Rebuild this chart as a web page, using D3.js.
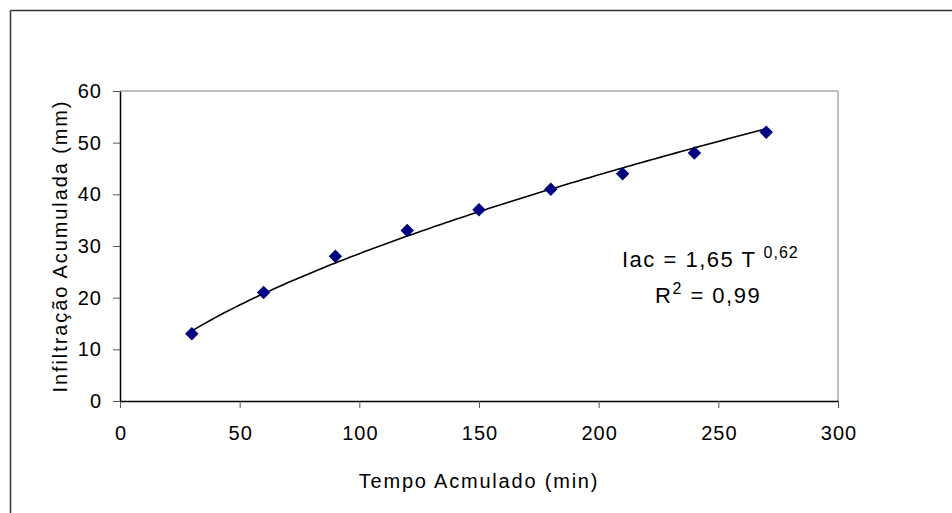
<!DOCTYPE html>
<html>
<head>
<meta charset="utf-8">
<script src="https://cdn.jsdelivr.net/npm/d3@7"></script>
<style>
  body { margin: 0; background: #fff; }
  svg text { font-family: 'Liberation Sans', Arial, sans-serif; fill: #000; }
</style>
</head>
<body>
<div id="chart"></div>
<script>
// Data
const tempo = [30, 60, 90, 120, 150, 180, 210, 240, 270] // min
const infiltracao = [13, 21, 28, 33, 37, 41, 44, 48, 52] // mm
const xTicks = [0, 50, 100, 150, 200, 250, 300]
const yTicks = [0, 10, 20, 30, 40, 50, 60]

const width = 952
const height = 513
const margin = { top: 91, right: 114, bottom: 112, left: 120 }

const svg = d3.select('#chart').append('svg')
  .attr('width', width)
  .attr('height', height)

// Outer chart frame (only top and left visible)
svg.append('line')
  .attr('x1', 10.5).attr('x2', width).attr('y1', 10.5).attr('y2', 10.5)
  .attr('stroke', '#333').attr('stroke-width', 1.5)
svg.append('line')
  .attr('x1', 10.5).attr('x2', 10.5).attr('y1', 10.5).attr('y2', height)
  .attr('stroke', '#333').attr('stroke-width', 1.5)

const xScale = d3.scaleLinear()
  .domain([0, 300])
  .range([margin.left, width - margin.right])

const yScale = d3.scaleLinear()
  .domain([0, 60])
  .range([height - margin.bottom, margin.top])

// Plot frame top and right in gray
svg.append('line')
  .attr('x1', xScale(0)).attr('x2', xScale(300))
  .attr('y1', yScale(60)).attr('y2', yScale(60))
  .attr('stroke', '#808080')
svg.append('line')
  .attr('x1', xScale(300)).attr('x2', xScale(300))
  .attr('y1', yScale(60)).attr('y2', yScale(0))
  .attr('stroke', '#808080')

// Axis x
const xAxis = svg.append('g')
  .attr('transform', `translate(0, ${yScale(0)})`)
  .call(d3.axisBottom(xScale).tickValues(xTicks).tickSize(7).tickSizeOuter(0).tickPadding(18))
xAxis.select('.domain').attr('stroke', '#000').attr('stroke-width', 1.5)
xAxis.selectAll('.tick line').attr('stroke', '#555')
xAxis.selectAll('.tick text')
  .style('font-size', '20px')
  .style('letter-spacing', '1px')
  .attr('dx', '0.5px')
  .attr('fill', '#000')

// Axis y
const yAxis = svg.append('g')
  .attr('transform', `translate(${xScale(0)}, 0)`)
  .call(d3.axisLeft(yScale).tickValues(yTicks).tickSize(7).tickSizeOuter(0).tickPadding(12))
yAxis.select('.domain').attr('stroke', '#000').attr('stroke-width', 1.5)
yAxis.selectAll('.tick line').attr('stroke', '#555')
yAxis.selectAll('.tick text')
  .style('font-size', '20px')
  .style('letter-spacing', '1px')
  .attr('dx', '1px')
  .attr('fill', '#000')

// Axis titles
svg.append('text')
  .attr('x', (xScale(0) + xScale(300)) / 2)
  .attr('y', 488)
  .attr('text-anchor', 'middle')
  .style('font-size', '20px')
  .style('letter-spacing', '1.8px')
  .text('Tempo Acmulado (min)')

svg.append('text')
  .attr('transform', `translate(67, ${(yScale(0) + yScale(60)) / 2}) rotate(-90)`)
  .attr('text-anchor', 'middle')
  .style('font-size', '20px')
  .style('letter-spacing', '1.9px')
  .text('Infiltração Acumulada (mm)')

// Power trendline fitted in log space (same as the spreadsheet's power fit)
const lx = tempo.map(Math.log)
const ly = infiltracao.map(Math.log)
const mx = d3.mean(lx)
const my = d3.mean(ly)
const b = d3.sum(lx, (d, i) => (d - mx) * (ly[i] - my)) / d3.sum(lx, d => (d - mx) * (d - mx))
const a = Math.exp(my - b * mx)
const fitX = d3.range(tempo[0], tempo[tempo.length - 1] + 1, 2)

svg.append('path')
  .datum(fitX)
  .attr('fill', 'none')
  .attr('stroke', '#000')
  .attr('stroke-width', 1.6)
  .attr('d', d3.line().x(d => xScale(d)).y(d => yScale(a * Math.pow(d, b))))

// Diamond markers
const diamond = d3.symbol().type(d3.symbolDiamond2).size(115)
svg.append('g')
  .selectAll('path')
  .data(tempo)
  .join('path')
  .attr('d', diamond())
  .attr('transform', (d, i) => `translate(${xScale(d)}, ${yScale(infiltracao[i])})`)
  .attr('fill', '#000080')

// Equation label
const eq = svg.append('text')
  .attr('x', 622)
  .attr('y', 267)
  .style('font-size', '22px')
  .style('letter-spacing', '1.5px')
eq.append('tspan').text('Iac = 1,65 T ')
eq.append('tspan').attr('dy', -9).style('font-size', '16px').style('letter-spacing', '1px').text('0,62')

const r2 = svg.append('text')
  .attr('x', 655)
  .attr('y', 303)
  .style('font-size', '22px')
  .style('letter-spacing', '1.5px')
r2.append('tspan').text('R')
r2.append('tspan').attr('dy', -9).style('font-size', '16px').text('2')
r2.append('tspan').attr('dy', 9).text(' = 0,99')
</script>
</body>
</html>
